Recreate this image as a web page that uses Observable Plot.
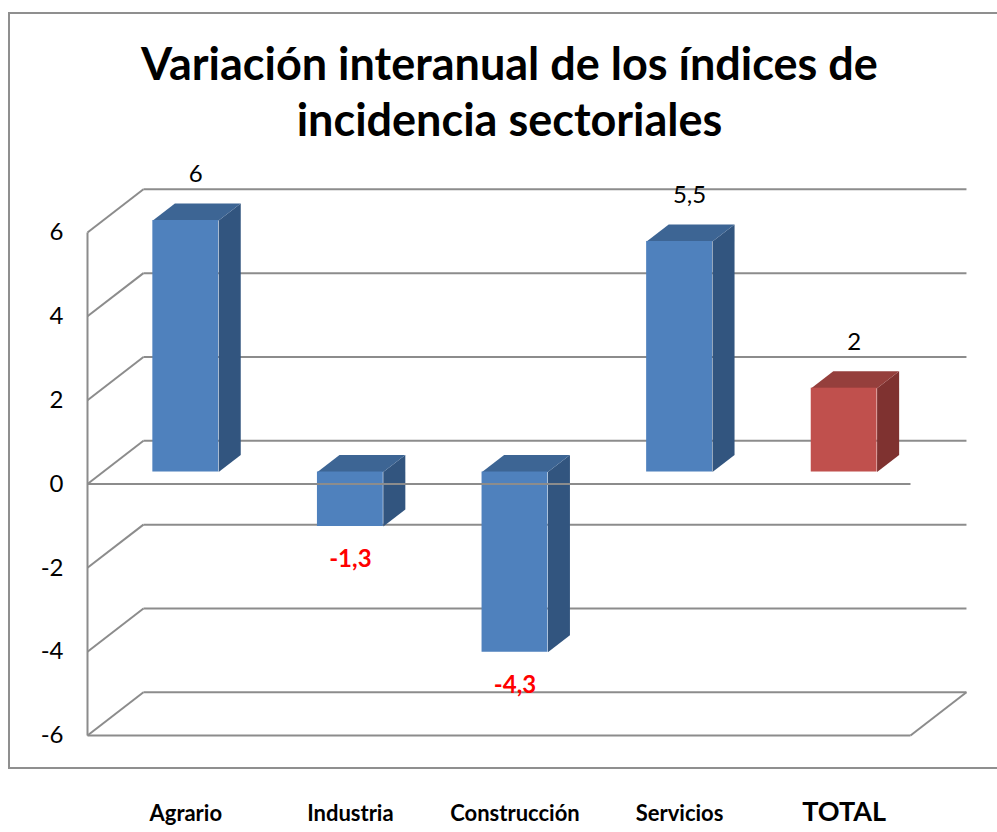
<!DOCTYPE html>
<html>
<head>
<meta charset="utf-8">
<script src="https://cdn.jsdelivr.net/npm/d3@7"></script>
<script src="https://cdn.jsdelivr.net/npm/@observablehq/plot@0.6"></script>
<style>
  html, body { margin: 0; padding: 0; background: #fff; }
  #wrap { position: relative; width: 997px; height: 832px; overflow: hidden; font-family: Lato, "Open Sans", sans-serif; }
  .frame { position: absolute; left: 8px; top: 12px; width: 1010px; height: 757px; border: 2px solid #8f8f8f; box-sizing: border-box; }
  .title { position: relative; height: 150px; box-sizing: border-box; padding-top: 35px; padding-left: 22px;
           text-align: center; font-weight: bold; font-size: 45px; line-height: 56px; color: #000; }
  #chart { position: relative; }
</style>
</head>
<body>
<div id="wrap">
  <div class="frame"></div>
  <div class="title">Variación interanual de los índices de<br>incidencia sectoriales</div>
  <div id="chart"></div>
</div>
<script>
// ---- data ----
const categories = ["Agrario", "Industria", "Construcción", "Servicios", "TOTAL"];
const values = [6, -1.3, -4.3, 5.5, 2];
const valueLabels = ["6", "-1,3", "-4,3", "5,5", "2"];
const seriesKey = ["sector", "sector", "sector", "sector", "total"];
const yTicks = [-6, -4, -2, 0, 2, 4, 6];

// ---- styling / 3D geometry (in data units of the scales) ----
const palette = {
  sector: { front: "#4F81BD", top: "#3D6594", side: "#32557F" },
  total:  { front: "#C0504D", top: "#953F3C", side: "#7F3230" }
};
const n = categories.length;
const yMin = -6, yMax = 6;
const wallDX = 0.34, wallDY = 1.03;   // depth of the wall
const barFX = 0.097, barFY = 0.286;   // bar front-face depth offset
const barDX = 0.134, barDY = 0.406;   // bar depth
const halfW = 0.2;                     // half bar width
const gridColor = "#8c8c8c";

const bars = values.map((v, i) => {
  const c = i + 0.5 + barFX;
  return {
    cat: categories[i], v, label: valueLabels[i], i,
    c, x1: c - halfW, x2: c + halfW,
    lo: Math.min(0, v) + barFY, hi: Math.max(0, v) + barFY,
    pal: palette[seriesKey[i]]
  };
});

const faces = [];
bars.forEach(b => {
  const side = [[b.x2, b.lo], [b.x2, b.hi], [b.x2 + barDX, b.hi + barDY], [b.x2 + barDX, b.lo + barDY]];
  const top = [[b.x1, b.hi], [b.x2, b.hi], [b.x2 + barDX, b.hi + barDY], [b.x1 + barDX, b.hi + barDY]];
  side.forEach(([x, y]) => faces.push({ id: "s" + b.i, x, y, fill: b.pal.side }));
  top.forEach(([x, y]) => faces.push({ id: "t" + b.i, x, y, fill: b.pal.top }));
});

const plot = Plot.plot({
  width: 997,
  height: 682,
  marginLeft: 87,
  marginRight: 87,
  marginTop: 82,
  marginBottom: 97,
  style: { fontFamily: "Lato, 'Open Sans', sans-serif", fontSize: "24px", color: "#000", background: "transparent", overflow: "visible" },
  x: { domain: [0, n], axis: null },
  y: { domain: [yMin, yMax], axis: null },
  color: { type: "identity" },
  marks: [
    // back wall gridlines
    Plot.link(yTicks, { x1: wallDX, y1: d => d + wallDY, x2: n + wallDX, y2: d => d + wallDY, stroke: gridColor, strokeWidth: 2 }),
    // left wall diagonals
    Plot.link(yTicks, { x1: 0, y1: d => d, x2: wallDX, y2: d => d + wallDY, stroke: gridColor, strokeWidth: 2 }),
    // front vertical axis
    Plot.link([0], { x1: 0, x2: 0, y1: yMin, y2: yMax, stroke: gridColor, strokeWidth: 2 }),
    // floor front edge and right edge
    Plot.link([0], { x1: 0, x2: n, y1: yMin, y2: yMin, stroke: gridColor, strokeWidth: 2 }),
    Plot.link([0], { x1: n, x2: n + wallDX, y1: yMin, y2: yMin + wallDY, stroke: gridColor, strokeWidth: 2 }),
    // bar side and top faces
    Plot.line(faces, { x: "x", y: "y", z: "id", fill: "fill", stroke: null, curve: "linear-closed" }),
    // bar front faces
    Plot.rect(bars, { x1: "x1", x2: "x2", y1: "lo", y2: "hi", fill: d => d.pal.front }),
    // front zero line (in front of bars)
    Plot.link([0], { x1: 0, x2: n, y1: 0, y2: 0, stroke: gridColor, strokeWidth: 2 }),
    Plot.axisY({ ticks: yTicks, tickSize: 0, tickPadding: 24, tickFormat: d => `${d}`, fontSize: 24, label: null }),
    // value labels
    Plot.text(bars.filter(b => b.v > 0), { x: "c", y: "hi", text: "label", dy: -46, dx: 10, fontSize: 24, fill: "#000" }),
    Plot.text(bars.filter(b => b.v < 0), { x: "c", y: "lo", text: "label", dy: 33, fontSize: 24, fontWeight: "bold", fill: "#FF0000" }),
    // category labels
    Plot.text(bars, { x: "c", text: "cat", frameAnchor: "bottom", dy: 85, fontWeight: "bold",
      fontSize: d => d.cat === "TOTAL" ? 27 : 22, fill: "#000" })
  ]
});
document.getElementById("chart").appendChild(plot);
</script>
</body>
</html>
